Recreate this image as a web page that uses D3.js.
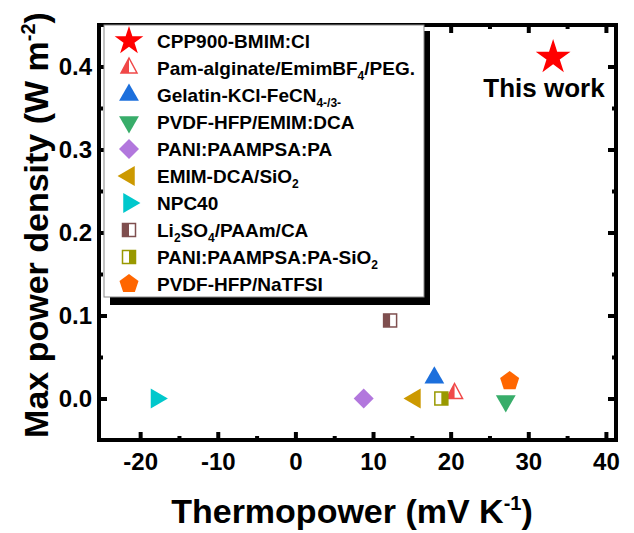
<!doctype html>
<html lang="en">
<head>
<meta charset="utf-8">
<title>Thermopower vs power density</title>
<script src="https://d3js.org/d3.v7.min.js"></script>
<style>
  body { margin: 0; background: #fff; }
  svg text { font-family: "Liberation Sans", Arial, sans-serif; font-weight: bold; fill: #000; }
</style>
</head>
<body>
<div id="chart"></div>
<script>
// data
var labels = [
  "CPP900-BMIM:Cl",
  "Pam-alginate/EmimBF_{4}/PEG.",
  "Gelatin-KCl-FeCN_{4-/3-}",
  "PVDF-HFP/EMIM:DCA",
  "PANI:PAAMPSA:PA",
  "EMIM-DCA/SiO_{2}",
  "NPC40",
  "Li_{2}SO_{4}/PAAm/CA",
  "PANI:PAAMPSA:PA-SiO_{2}",
  "PVDF-HFP/NaTFSI"
];
var thermopower  = [33.2, 20.5, 17.9, 27.1, 8.8, 15.4, -17.9, 12.2, 18.8, 27.6];
var powerDensity = [0.411, 0.006, 0.025, -0.003, 0.0, 0.0, 0.0, 0.094, 0.0, 0.021];
var colors = ["#ff0000", "#f04848", "#1c6fdc", "#38ad6a", "#b277dd", "#cc9900", "#00c8cc", "#7f4f4f", "#999900", "#ff6600"];
var shapes = ["star", "halfTriangle", "triangleUp", "triangleDown", "diamond", "triangleLeft", "triangleRight", "halfSquareL", "halfSquareR", "pentagon"];

var xTicks = [-20, -10, 0, 10, 20, 30, 40];
var xMinor = [-15, -5, 5, 15, 25, 35];
var yTicks = [0.0, 0.1, 0.2, 0.3, 0.4];
var yMinor = [0.05, 0.15, 0.25, 0.35];

var width = 634, height = 533;
var x = d3.scaleLinear().domain([-25.3, 41.3]).range([99, 616]);
var y = d3.scaleLinear().domain([-0.05, 0.45]).range([440, 25]);

var svg = d3.select("#chart").append("svg")
    .attr("width", width)
    .attr("height", height);

// axes (ticks point inward), plain hyphen for negatives
function styleAxis(g) {
  g.select(".domain").remove();
  g.selectAll(".tick line").attr("stroke", "#000").attr("stroke-width", 4);
  g.selectAll(".tick text").style("font-size", "24px");
  g.selectAll(".tick text").filter(function () { return this.textContent === ""; }).remove();
}
var fmtX = function (d) { return String(d); };
var fmtY = function (d) { return d.toFixed(1); };

function addAxis(axisFn, scale, pos, vals, size, fmt, pad) {
  var a = axisFn(scale).tickValues(vals).tickSize(-size).tickPadding(pad || 3).tickFormat(fmt || "");
  var tr = (axisFn === d3.axisBottom || axisFn === d3.axisTop) ? "translate(0," + pos + ")" : "translate(" + pos + ",0)";
  svg.append("g").attr("transform", tr).call(a).call(styleAxis);
}

addAxis(d3.axisBottom, x, y.range()[0], xTicks, 8, fmtX, 13);
addAxis(d3.axisBottom, x, y.range()[0], xMinor, 4);
addAxis(d3.axisTop, x, y.range()[1], xTicks, 8);
addAxis(d3.axisTop, x, y.range()[1], xMinor, 4);
addAxis(d3.axisLeft, y, x.range()[0], yTicks, 8, fmtY, 7);
addAxis(d3.axisLeft, y, x.range()[0], yMinor, 4);
addAxis(d3.axisRight, y, x.range()[1], yTicks, 8);
addAxis(d3.axisRight, y, x.range()[1], yMinor, 4);

// frame
svg.append("rect")
  .attr("x", x.range()[0]).attr("y", y.range()[1])
  .attr("width", x.range()[1] - x.range()[0])
  .attr("height", y.range()[0] - y.range()[1])
  .attr("fill", "none").attr("stroke", "#000").attr("stroke-width", 4);

// axis titles
var xt = svg.append("text")
  .attr("x", 352).attr("y", 523)
  .attr("text-anchor", "middle")
  .style("font-size", "34px");
xt.append("tspan").text("Thermopower (mV K");
xt.append("tspan").attr("dy", -13).style("font-size", "20px").text("-1");
xt.append("tspan").attr("dy", 13).text(")");

var yt = svg.append("text")
  .attr("transform", "translate(48,225) rotate(-90)")
  .attr("text-anchor", "middle")
  .style("font-size", "34px");
yt.append("tspan").text("Max power density (W m");
yt.append("tspan").attr("dy", -13).style("font-size", "20px").text("-2");
yt.append("tspan").attr("dy", 13).text(")");

// marker drawing
function drawMarker(g, shape, color, cx, cy, s) {
  var k = s || 1;
  var gg = g.append("g").attr("transform", "translate(" + cx + "," + cy + ")");
  if (shape === "star") {
    gg.append("path").attr("d", d3.symbol(d3.symbolStar, 300 * k)()).attr("fill", color);
  } else if (shape === "triangleUp") {
    gg.append("path").attr("d", d3.symbol(d3.symbolTriangle, 170)()).attr("fill", color);
  } else if (shape === "triangleDown") {
    gg.append("path").attr("d", d3.symbol(d3.symbolTriangle, 170)()).attr("transform", "rotate(180)").attr("fill", color);
  } else if (shape === "triangleLeft") {
    gg.append("path").attr("d", d3.symbol(d3.symbolTriangle, 170)()).attr("transform", "rotate(-90)").attr("fill", color);
  } else if (shape === "triangleRight") {
    gg.append("path").attr("d", d3.symbol(d3.symbolTriangle, 170)()).attr("transform", "rotate(90)").attr("fill", color);
  } else if (shape === "diamond") {
    gg.append("path").attr("d", d3.symbol(d3.symbolSquare, 200)()).attr("transform", "rotate(45)").attr("fill", color);
  } else if (shape === "pentagon") {
    var r = 10, pts = d3.range(5).map(function (i) {
      var a = -Math.PI / 2 + i * 2 * Math.PI / 5;
      return [r * Math.cos(a), r * Math.sin(a)];
    });
    gg.append("path").attr("d", d3.line()(pts) + "Z").attr("fill", color);
  } else if (shape === "halfTriangle") {
    var h = 15, w = 8;
    gg.append("path").attr("d", "M0," + (-h * 2 / 3) + "L0," + (h / 3) + "L" + (-w) + "," + (h / 3) + "Z").attr("fill", color);
    gg.append("path").attr("d", "M0," + (-h * 2 / 3) + "L" + w + "," + (h / 3) + "L" + (-w) + "," + (h / 3) + "Z")
      .attr("fill", "none").attr("stroke", color).attr("stroke-width", 1.5);
  } else if (shape === "halfSquareL" || shape === "halfSquareR") {
    var a = 6.5;
    gg.append("rect").attr("x", shape === "halfSquareL" ? -a : 0).attr("y", -a)
      .attr("width", a).attr("height", 2 * a).attr("fill", color);
    gg.append("rect").attr("x", -a).attr("y", -a).attr("width", 2 * a).attr("height", 2 * a)
      .attr("fill", "none").attr("stroke", color).attr("stroke-width", 1.5);
  }
}

// legend with drop shadow
var lg = svg.append("g");
lg.append("rect").attr("x", 110).attr("y", 31).attr("width", 320).attr("height", 274).attr("fill", "#000");
lg.append("rect").attr("x", 104).attr("y", 25).attr("width", 320).attr("height", 272)
  .attr("fill", "#fff").attr("stroke", "#888").attr("stroke-width", 1);

labels.forEach(function (lab, i) {
  var ly = 41 + i * 27;
  drawMarker(lg, shapes[i], colors[i], 129, ly, i === 0 ? 0.85 : 1);
  var t = lg.append("text").attr("x", 157).attr("y", ly + 7).style("font-size", "19px");
  var shift = 0;
  lab.split(/(_\{[^}]*\})/).forEach(function (part) {
    if (!part) return;
    if (part.charAt(0) === "_") {
      t.append("tspan").attr("dy", 5 - shift).style("font-size", "12px").text(part.slice(2, -1));
      shift = 5;
    } else {
      t.append("tspan").attr("dy", -shift).text(part);
      shift = 0;
    }
  });
});

// data points
var pts = svg.append("g");
labels.forEach(function (lab, i) {
  drawMarker(pts, shapes[i], colors[i], x(thermopower[i]), y(powerDensity[i]), i === 0 ? 1.25 : 1);
});

svg.append("text")
  .attr("x", 544).attr("y", 97)
  .attr("text-anchor", "middle")
  .style("font-size", "26px")
  .text("This work");
</script>
</body>
</html>
